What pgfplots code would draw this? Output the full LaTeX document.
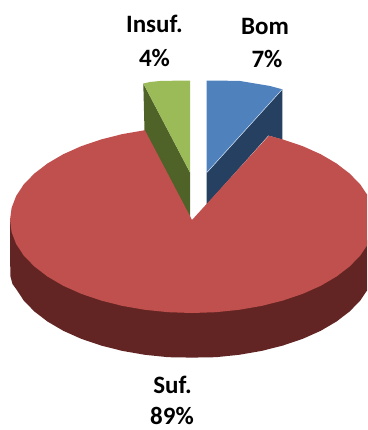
\documentclass[border=0pt]{standalone}
\usepackage{fontspec}
\setmainfont{Carlito}
\usepackage{pgfplots}
\pgfplotsset{compat=1.18}
\definecolor{bomtop}{HTML}{4F81BD}
\definecolor{bomwall}{HTML}{254061}
\definecolor{suftop}{HTML}{C0504D}
\definecolor{sufwall}{HTML}{632523}
\definecolor{instop}{HTML}{9BBB59}
\definecolor{inswall}{HTML}{4F6228}
\tikzset{lab/.style={font=\fontsize{25}{29}\selectfont\bfseries, text=black, inner sep=0pt, anchor=center}}
\begin{document}
\begin{tikzpicture}
\begin{axis}[
  hide axis, scale only axis, width=367pt, height=430pt,
  xmin=0, xmax=367, ymin=0, ymax=430, y dir=reverse,
  clip=false,
]
% Full extent of the drawing area
\path (rel axis cs:0,0) rectangle (rel axis cs:1,1);
% Walls of the two small exploded slices
\addplot[fill=inswall, draw=none] coordinates {(143.3,83.5) (190,172.5) (190,217) (144.5,131)};
\addplot[fill=bomwall, draw=none] coordinates {(206.7,172.7) (282.3,89.3) (282.3,139.6) (268.3,135.5) (206.7,204.5)};
% Outer wall of the large slice
\addplot[fill=sufwall, draw=none] coordinates {
  (10,220) (10.3,276) (12.5,284) (16.2,289.1) (23.8,300.6) (34.4,311.5) (47.6,321.6) (63.3,330.8)
  (81.2,338.8) (101,345.5) (122.3,350.9) (144.9,354.8) (168.2,357.2) (192,357.6) (215.8,357.2)
  (239.1,354.8) (261.7,350.9) (283,345.5) (302.8,338.8) (320.7,330.8) (336.4,321.6) (349.6,311.5)
  (360.2,300.6) (367,290.5) (367,240) };
% Top faces
\addplot[fill=suftop, draw=none] coordinates {
  (144.9,130.2) (122.3,134.1) (101,139.5) (81.2,146.2) (63.3,154.2) (47.6,163.4) (34.4,173.5)
  (23.8,184.4) (16.2,195.9) (11.6,207.9) (10,220) (11.6,232.1) (16.2,244.1) (23.8,255.6)
  (34.4,266.5) (47.6,276.6) (63.3,285.8) (81.2,293.8) (101,300.5) (122.3,305.9) (144.9,309.8)
  (168.2,312.2) (192,313) (215.8,312.2) (239.1,309.8) (261.7,305.9) (283,300.5) (302.8,293.8)
  (320.7,285.8) (336.4,276.6) (349.6,266.5) (360.2,255.6) (367,245.5) (367,194.5) (360.2,184.4)
  (349.6,173.5) (336.4,163.4) (320.7,154.2) (302.8,146.2) (283,139.5) (268.9,135.7) (192,220) };
\addplot[fill=instop, draw=none] coordinates {(143.3,83.5) (150,82) (160,81) (175,80.7) (190,80.7) (190,172.5)};
\addplot[fill=bomtop, draw=none] coordinates {(206.7,80.7) (225,80.7) (240,81) (255,83.5) (270,86) (282.3,89.3) (206.7,172.7)};
\addplot[color=white!75!bomtop, line width=0.5pt] coordinates {(282.3,89.3) (206.7,172.7)};
% Category and share labels
\node[lab] at (axis cs:154.5,24) {Insuf.};
\node[lab] at (axis cs:154.5,58) {4\%};
\node[lab] at (axis cs:265,26) {Bom};
\node[lab] at (axis cs:267,59) {7\%};
\node[lab] at (axis cs:172.5,385) {Suf.};
\node[lab] at (axis cs:172,416) {89\%};
\end{axis}
\end{tikzpicture}
\end{document}
